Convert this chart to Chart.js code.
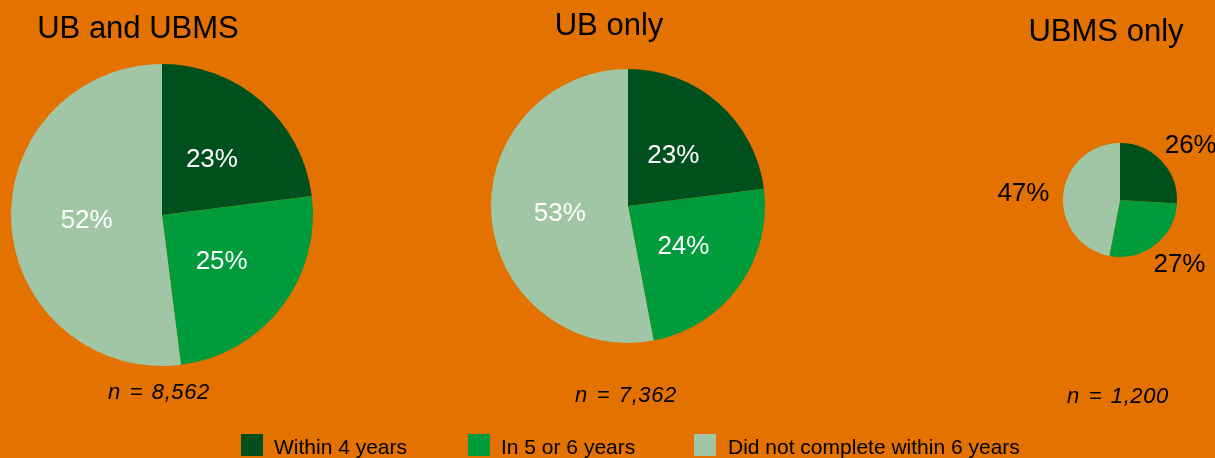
<!DOCTYPE html>
<html>
<head>
<meta charset="utf-8">
<script src="https://cdn.jsdelivr.net/npm/chart.js@4"></script>
<style>
  html, body { margin:0; padding:0; width:1215px; height:458px; overflow:hidden; background:#E37200; }
  body { position:relative; font-family:"Liberation Sans", Arial, sans-serif; color:#000; }
  canvas { position:absolute; left:0; top:0; }
  .title { position:absolute; width:320px; text-align:center; font-size:31px; line-height:31px; white-space:nowrap; }
  .nlab { position:absolute; width:240px; text-align:center; font-size:22px; line-height:22px; font-style:italic; letter-spacing:0.6px; word-spacing:2px; white-space:nowrap; }
  .leg { position:absolute; font-size:21px; line-height:21px; white-space:nowrap; }
  .box { position:absolute; width:22px; height:22px; }
</style>
</head>
<body>
<script>
// ---- data ----
const categories = ['Within 4 years', 'In 5 or 6 years', 'Did not complete within 6 years'];
const ubAndUbms = [23, 25, 52];
const ubOnly = [23, 24, 53];
const ubmsOnly = [26, 27, 47];
const groupTitles = ['UB and UBMS', 'UB only', 'UBMS only'];
const sampleSizes = ['8,562', '7,362', '1,200'];

// ---- styles / layout ----
const W = 1215, H = 458;
const sliceColors = ['#00501E', '#009B3A', '#A1C6A5'];
const pies = [
  { values: ubAndUbms, cx: 162,  cy: 215, r: 151, inside: true,  titleX: 138,  titleTop: 12, nX: 159,  nTop: 381 },
  { values: ubOnly,    cx: 628,  cy: 206, r: 137, inside: true,  titleX: 609,  titleTop: 9,  nX: 626,  nTop: 384 },
  { values: ubmsOnly,  cx: 1120, cy: 200, r: 57,  inside: false, titleX: 1106, titleTop: 15, nX: 1118, nTop: 385 }
];
const legendPos = [{ box: 241, text: 274 }, { box: 468, text: 501 }, { box: 694, text: 728 }];

const labelPlugin = {
  id: 'sliceLabels',
  afterDatasetsDraw(chart, args, opts) {
    const ctx = chart.ctx;
    const meta = chart.getDatasetMeta(0);
    const vals = chart.data.datasets[0].data;
    ctx.save();
    ctx.font = '26px "Liberation Sans", Arial, sans-serif';
    ctx.textAlign = 'center';
    ctx.textBaseline = 'middle';
    ctx.fillStyle = opts.inside ? '#FFFFFF' : '#000000';
    meta.data.forEach((arc, i) => {
      const p = arc.getProps(['x', 'y', 'startAngle', 'endAngle', 'outerRadius'], true);
      const mid = (p.startAngle + p.endAngle) / 2;
      const txt = vals[i] + '%';
      let x, y;
      if (opts.inside) {
        const rr = p.outerRadius * 0.5;
        x = p.x + Math.cos(mid) * rr;
        y = p.y + Math.sin(mid) * rr;
      } else {
        const rr = p.outerRadius + 14;
        const w = ctx.measureText(txt).width, h = 19;
        x = p.x + Math.cos(mid) * rr + Math.cos(mid) * w / 2;
        y = p.y + Math.sin(mid) * rr + Math.sin(mid) * h / 2;
      }
      ctx.fillText(txt, x, y + 1);
    });
    ctx.restore();
  }
};

pies.forEach((p, k) => {
  const c = document.createElement('canvas');
  c.width = W; c.height = H;
  document.body.appendChild(c);
  new Chart(c, {
    type: 'pie',
    data: {
      labels: categories,
      datasets: [{ data: p.values, backgroundColor: sliceColors, borderWidth: 0 }]
    },
    options: {
      responsive: false,
      devicePixelRatio: 1,
      animation: false,
      events: [],
      layout: { padding: { left: p.cx - p.r, right: W - (p.cx + p.r), top: p.cy - p.r, bottom: H - (p.cy + p.r) } },
      plugins: {
        legend: { display: false },
        tooltip: { enabled: false },
        title: { display: false },
        sliceLabels: { inside: p.inside }
      }
    },
    plugins: [labelPlugin]
  });

  const t = document.createElement('div');
  t.className = 'title';
  t.textContent = groupTitles[k];
  t.style.left = (p.titleX - 160) + 'px';
  t.style.top = p.titleTop + 'px';
  document.body.appendChild(t);

  const n = document.createElement('div');
  n.className = 'nlab';
  n.textContent = 'n = ' + sampleSizes[k];
  n.style.left = (p.nX - 120) + 'px';
  n.style.top = p.nTop + 'px';
  document.body.appendChild(n);
});

categories.forEach((cat, i) => {
  const b = document.createElement('div');
  b.className = 'box';
  b.style.left = legendPos[i].box + 'px';
  b.style.top = '434px';
  b.style.background = sliceColors[i];
  document.body.appendChild(b);
  const l = document.createElement('div');
  l.className = 'leg';
  l.textContent = cat;
  l.style.left = legendPos[i].text + 'px';
  l.style.top = '436px';
  document.body.appendChild(l);
});
</script>
</body>
</html>
